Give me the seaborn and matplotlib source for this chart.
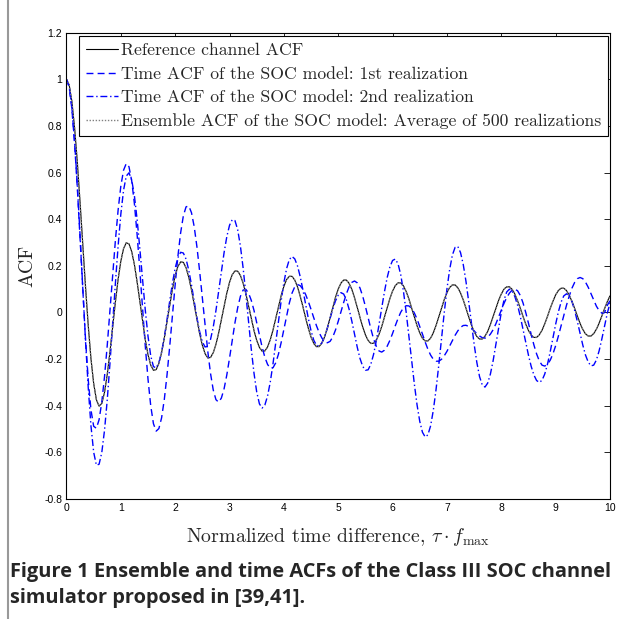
import numpy as np
import pandas as pd
import matplotlib
matplotlib.use("Agg")
import matplotlib.pyplot as plt
import seaborn as sns
from matplotlib.lines import Line2D

# ---------------- data ----------------
tau = np.linspace(0, 10, 201)   # sampling grid, step 0.05

reference_acf = [
    1.000, 0.976, 0.904, 0.790, 0.643, 0.472, 0.291, 0.111, -0.055, -0.197,
    -0.304, -0.374, -0.402, -0.390, -0.343, -0.266, -0.169, -0.062, 0.045, 0.142,
    0.220, 0.274, 0.299, 0.294, 0.261, 0.205, 0.130, 0.047, -0.038, -0.117,
    -0.181, -0.226, -0.248, -0.245, -0.219, -0.172, -0.110, -0.039, 0.034, 0.101,
    0.158, 0.197, 0.217, 0.215, 0.192, 0.151, 0.097, 0.034, -0.031, -0.091,
    -0.141, -0.177, -0.195, -0.193, -0.173, -0.137, -0.088, -0.031, 0.028, 0.083,
    0.129, 0.162, 0.178, 0.177, 0.159, 0.126, 0.081, 0.028, -0.026, -0.077,
    -0.120, -0.150, -0.166, -0.165, -0.148, -0.117, -0.075, -0.026, 0.024, 0.072,
    0.112, 0.141, 0.155, 0.155, 0.139, 0.110, 0.070, 0.025, -0.023, -0.068,
    -0.106, -0.133, -0.147, -0.146, -0.131, -0.104, -0.067, -0.023, 0.022, 0.065,
    0.100, 0.126, 0.139, 0.139, 0.125, 0.099, 0.063, 0.022, -0.021, -0.062,
    -0.096, -0.120, -0.133, -0.132, -0.119, -0.094, -0.060, -0.021, 0.020, 0.059,
    0.092, 0.115, 0.127, 0.127, 0.114, 0.090, 0.058, 0.020, -0.019, -0.057,
    -0.088, -0.111, -0.122, -0.122, -0.110, -0.087, -0.056, -0.019, 0.019, 0.055,
    0.085, 0.107, 0.118, 0.118, 0.106, 0.084, 0.054, 0.019, -0.018, -0.053,
    -0.082, -0.103, -0.114, -0.114, -0.102, -0.081, -0.052, -0.018, 0.017, 0.051,
    0.079, 0.100, 0.110, 0.110, 0.099, 0.079, 0.050, 0.018, -0.017, -0.050,
    -0.077, -0.097, -0.107, -0.107, -0.096, -0.076, -0.049, -0.017, 0.017, 0.048,
    0.075, 0.094, 0.104, 0.104, 0.094, 0.074, 0.048, 0.017, -0.016, -0.047,
    -0.073, -0.092, -0.101, -0.101, -0.091, -0.072, -0.046, -0.016, 0.016, 0.046,
    0.071,
]

realization1_acf = [
    1.000, 0.967, 0.872, 0.723, 0.532, 0.317, 0.095, -0.113, -0.288, -0.417,
    -0.488, -0.497, -0.460, -0.384, -0.275, -0.141, 0.008, 0.162, 0.309, 0.439,
    0.542, 0.610, 0.639, 0.625, 0.565, 0.466, 0.333, 0.180, 0.016, -0.144,
    -0.286, -0.400, -0.477, -0.509, -0.498, -0.452, -0.373, -0.268, -0.144, -0.012,
    0.120, 0.241, 0.341, 0.414, 0.453, 0.457, 0.428, 0.368, 0.282, 0.177,
    0.061, -0.057, -0.167, -0.261, -0.332, -0.374, -0.385, -0.367, -0.327, -0.268,
    -0.196, -0.119, -0.044, 0.020, 0.069, 0.096, 0.099, 0.083, 0.052, 0.009,
    -0.043, -0.097, -0.149, -0.192, -0.223, -0.239, -0.237, -0.216, -0.179, -0.129,
    -0.072, -0.013, 0.040, 0.083, 0.110, 0.120, 0.115, 0.100, 0.077, 0.047,
    0.013, -0.023, -0.057, -0.087, -0.110, -0.125, -0.130, -0.124, -0.105, -0.075,
    -0.038, 0.003, 0.043, 0.080, 0.110, 0.129, 0.135, 0.127, 0.105, 0.070,
    0.026, -0.022, -0.070, -0.113, -0.145, -0.165, -0.170, -0.162, -0.145, -0.120,
    -0.090, -0.057, -0.026, 0.001, 0.020, 0.029, 0.028, 0.018, -0.002, -0.028,
    -0.060, -0.093, -0.127, -0.158, -0.183, -0.201, -0.209, -0.209, -0.201, -0.186,
    -0.167, -0.144, -0.121, -0.098, -0.079, -0.064, -0.056, -0.055, -0.060, -0.068,
    -0.079, -0.091, -0.101, -0.108, -0.110, -0.106, -0.093, -0.074, -0.049, -0.020,
    0.010, 0.039, 0.064, 0.083, 0.096, 0.100, 0.093, 0.073, 0.041, 0.000,
    -0.046, -0.094, -0.139, -0.178, -0.208, -0.226, -0.230, -0.222, -0.205, -0.178,
    -0.143, -0.102, -0.058, -0.013, 0.031, 0.070, 0.104, 0.129, 0.145, 0.150,
    0.145, 0.130, 0.108, 0.081, 0.053, 0.027, 0.008, -0.003, -0.001, 0.030,
    0.050,
]

realization2_acf = [
    1.000, 0.969, 0.877, 0.732, 0.544, 0.330, 0.102, -0.121, -0.321, -0.485,
    -0.599, -0.655, -0.651, -0.600, -0.505, -0.375, -0.218, -0.047, 0.125, 0.285,
    0.422, 0.524, 0.585, 0.599, 0.569, 0.500, 0.398, 0.273, 0.140, 0.010,
    -0.102, -0.186, -0.232, -0.238, -0.215, -0.170, -0.106, -0.030, 0.050, 0.126,
    0.190, 0.235, 0.258, 0.255, 0.229, 0.181, 0.118, 0.048, -0.022, -0.082,
    -0.126, -0.148, -0.145, -0.116, -0.063, 0.008, 0.091, 0.177, 0.257, 0.325,
    0.374, 0.398, 0.394, 0.355, 0.285, 0.191, 0.079, -0.041, -0.157, -0.260,
    -0.341, -0.392, -0.410, -0.397, -0.358, -0.298, -0.220, -0.131, -0.039, 0.050,
    0.128, 0.188, 0.227, 0.240, 0.230, 0.200, 0.154, 0.097, 0.035, -0.026,
    -0.079, -0.119, -0.141, -0.144, -0.130, -0.104, -0.067, -0.026, 0.015, 0.050,
    0.074, 0.085, 0.079, 0.054, 0.014, -0.037, -0.094, -0.149, -0.197, -0.231,
    -0.248, -0.246, -0.222, -0.180, -0.122, -0.053, 0.019, 0.088, 0.149, 0.195,
    0.223, 0.229, 0.209, 0.162, 0.091, 0.001, -0.100, -0.205, -0.306, -0.396,
    -0.467, -0.514, -0.534, -0.525, -0.486, -0.419, -0.330, -0.226, -0.114, -0.002,
    0.100, 0.184, 0.246, 0.279, 0.283, 0.257, 0.206, 0.134, 0.047, -0.045,
    -0.135, -0.214, -0.275, -0.311, -0.320, -0.303, -0.264, -0.207, -0.138, -0.067,
    0.000, 0.053, 0.088, 0.100, 0.092, 0.068, 0.031, -0.017, -0.072, -0.128,
    -0.183, -0.231, -0.268, -0.292, -0.300, -0.291, -0.264, -0.222, -0.169, -0.110,
    -0.051, 0.002, 0.044, 0.071, 0.080, 0.071, 0.047, 0.009, -0.039, -0.090,
    -0.140, -0.183, -0.213, -0.229, -0.226, -0.204, -0.165, -0.114, -0.058, -0.004,
    0.040,
]

# ensemble average lies on top of the reference curve in the picture
ensemble_acf = list(reference_acf)

series_labels = [
    "Reference channel ACF",
    "Time ACF of the SOC model: 1st realization",
    "Time ACF of the SOC model: 2nd realization",
    "Ensemble ACF of the SOC model: Average of 500 realizations",
]
x_ticks = [0, 1, 2, 3, 4, 5, 6, 7, 8, 9, 10]
y_ticks = [-0.8, -0.6, -0.4, -0.2, 0, 0.2, 0.4, 0.6, 0.8, 1, 1.2]
y_tick_labels = ["-0.8", "-0.6", "-0.4", "-0.2", "0", "0.2", "0.4", "0.6", "0.8", "1", "1.2"]

# ---------------- drawing ----------------
sns.set_theme(style="white")
plt.rcParams["font.family"] = ["Liberation Sans", "DejaVu Sans"]
plt.rcParams["mathtext.fontset"] = "cm"

fig = plt.figure(figsize=(6.26, 6.19), dpi=100)
ax = fig.add_axes([0.1062, 0.1939, 0.8682, 0.7533])

df = pd.DataFrame({
    "tau": tau,
    "ref": reference_acf,
    "r1": realization1_acf,
    "r2": realization2_acf,
    "ens": ensemble_acf,
})

sns.lineplot(data=df, x="tau", y="ref", ax=ax, color="black", linewidth=0.8,
             label=series_labels[0])
sns.lineplot(data=df, x="tau", y="r1", ax=ax, color=(0, 0, 1), linewidth=1.0,
             label=series_labels[1])
sns.lineplot(data=df, x="tau", y="r2", ax=ax, color=(0, 0, 1), linewidth=1.0,
             label=series_labels[2])
sns.lineplot(data=df, x="tau", y="ens", ax=ax, color=(0.5, 0.5, 0.5), linewidth=1.0,
             label=series_labels[3])
lines = ax.get_lines()
lines[1].set_dashes([5, 3])
lines[2].set_dashes([5, 2, 1, 2])
lines[3].set_dashes([1, 1.2])

ax.set_xlim(0, 10)
ax.set_ylim(-0.8, 1.2)
ax.set_xticks(x_ticks)
ax.set_xticklabels([str(t) for t in x_ticks])
ax.set_yticks(y_ticks)
ax.set_yticklabels(y_tick_labels)
ax.tick_params(direction="in", length=4, width=0.6, top=True, right=True,
               labelsize=7.5, colors="black", pad=3)
for sp in ax.spines.values():
    sp.set_color("black")
    sp.set_linewidth(0.8)

ax.set_xlabel(r"Normalized time difference, $\tau\cdot f_{\max}$",
              fontfamily="cmr10", fontsize=14.3, labelpad=9)
ax.set_ylabel("ACF", fontfamily="cmr10", fontsize=14.3, labelpad=6)

handles = [
    Line2D([], [], color="black", linewidth=0.8),
    Line2D([], [], color=(0, 0, 1), linewidth=1.0, dashes=[5, 3]),
    Line2D([], [], color=(0, 0, 1), linewidth=1.0, dashes=[5, 2, 1, 2]),
    Line2D([], [], color=(0.5, 0.5, 0.5), linewidth=1.0, dashes=[1, 1.2]),
]
leg = ax.legend(handles, series_labels, loc="upper right",
                bbox_to_anchor=(0.997, 0.993), borderaxespad=0,
                prop={"family": "cmr10", "size": 12.7},
                frameon=True, fancybox=False, framealpha=1,
                edgecolor="black", handlelength=1.8, handletextpad=0.2,
                labelspacing=0.46, borderpad=0.4)
leg.get_frame().set_linewidth(0.8)

# caption under the chart
fig.text(0.016, 0.076, "Figure 1 Ensemble and time ACFs of the Class III SOC channel",
         fontfamily="Open Sans", fontweight="bold", fontsize=14.4, va="center", ha="left")
fig.text(0.016, 0.034, "simulator proposed in [39,41].",
         fontfamily="Open Sans", fontweight="bold", fontsize=14.4, va="center", ha="left")

# grey rule on the left edge of the figure
fig.add_artist(Line2D([0.013, 0.013], [0.0, 1.0], transform=fig.transFigure,
                      color=(0.6, 0.6, 0.6), linewidth=1.5))

fig.savefig("out.png", dpi=100)
